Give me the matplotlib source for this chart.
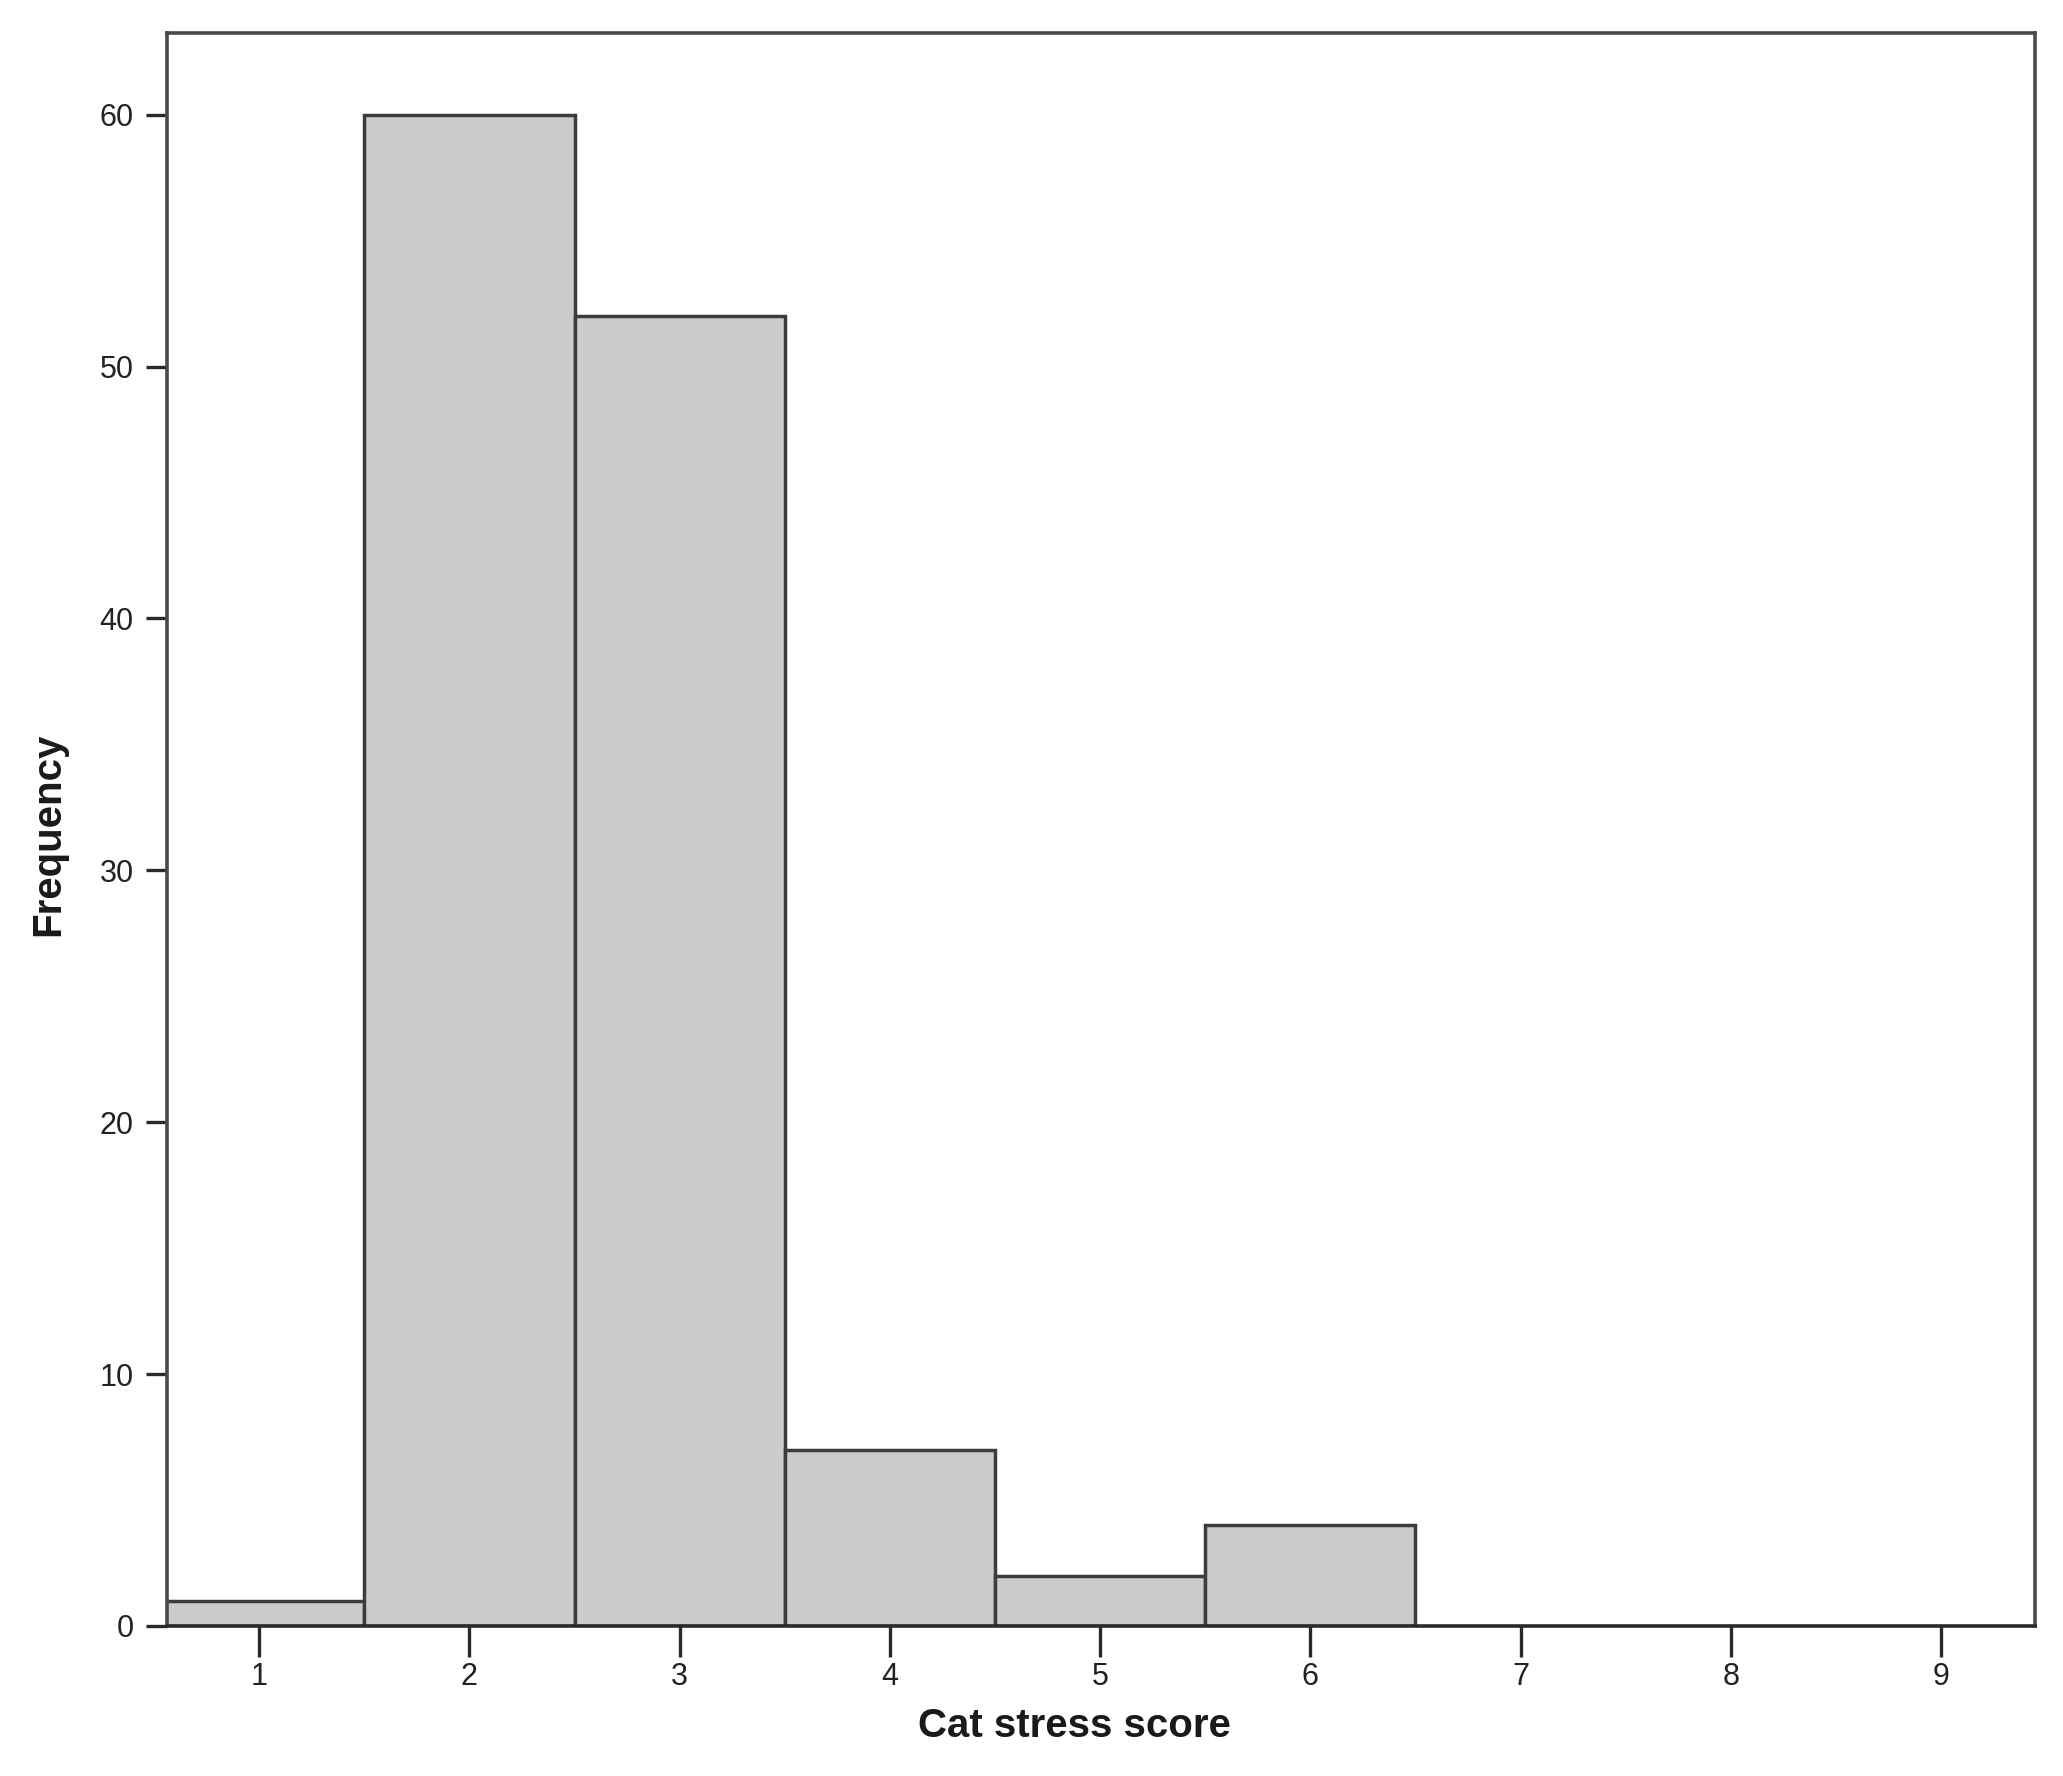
import matplotlib
matplotlib.use("Agg")
import matplotlib.pyplot as plt
import numpy as np

# Data
scores = [1, 2, 3, 4, 5, 6]
counts = [1, 60, 52, 7, 2, 4]
x_ticks = [1, 2, 3, 4, 5, 6, 7, 8, 9]
y_ticks = [0, 10, 20, 30, 40, 50, 60]

TICK_FONT = ["Liberation Sans Narrow", "Liberation Sans", "DejaVu Sans"]
LABEL_FONT = ["Liberation Sans", "DejaVu Sans"]

fig = plt.figure(figsize=(20.63, 17.76), dpi=100)
ax = fig.add_axes([0.081, 0.0845, 0.9054, 0.8969])

ax.bar(scores, counts, width=1.0, align="center",
       color="#cccccc", edgecolor="#3c3c3c", linewidth=2.5, zorder=2)

ax.set_xlim(0.562, 9.447)
ax.set_ylim(0, 63.24)

ax.set_xticks(x_ticks)
ax.set_yticks(y_ticks)
ax.set_xticklabels([str(t) for t in x_ticks], family=TICK_FONT, fontsize=22, color="#222222")
ax.set_yticklabels([str(t) for t in y_ticks], family=TICK_FONT, fontsize=22, color="#222222")

ax.tick_params(axis="x", direction="out", length=22, width=2.4, color="#2a2a2a", pad=4)
ax.tick_params(axis="y", direction="out", length=15, width=2.4, color="#2a2a2a", pad=9)

for side in ["left", "right", "top", "bottom"]:
    ax.spines[side].set_linewidth(2.6)
    ax.spines[side].set_color("#4a4a4a")
ax.spines["bottom"].set_color("#2a2a2a")

ax.set_xlabel("Cat stress score", family=LABEL_FONT, fontsize=29,
              fontweight="bold", color="#1a1a1a")
ax.set_ylabel("Frequency", family=LABEL_FONT, fontsize=29,
              fontweight="bold", color="#1a1a1a")
ax.xaxis.set_label_coords(0.486, -0.051)
ax.yaxis.set_label_coords(-0.0535, 0.497)

fig.savefig("out.png", dpi=100, facecolor="white")
